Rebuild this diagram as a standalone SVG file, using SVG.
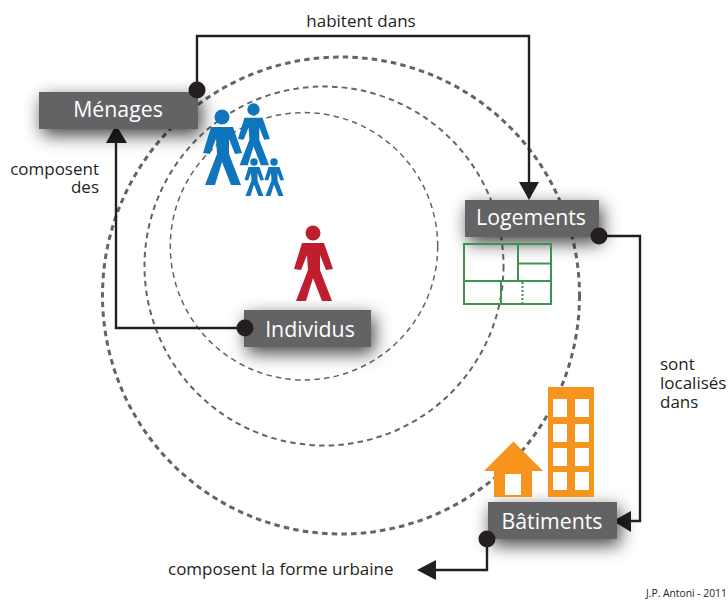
<svg xmlns="http://www.w3.org/2000/svg" width="728" height="600" viewBox="0 0 728 600">
<style>
text{font-family:"Open Sans","Noto Sans","Liberation Sans",sans-serif;fill:#231f20}
.lbl{font-size:17px}
.nt{font-size:21.3px;fill:#fff;text-anchor:middle}
.box{fill:#636466;filter:url(#sh)}
.c{fill:none;stroke:#231f20;stroke-width:2.4}
.dot{fill:#231f20}
.ring{fill:none;stroke:#636466;stroke-dasharray:5.5 4.2}
.g{fill:none;stroke:#3c9450;stroke-width:2}
.o{fill:#f7941d}
.w{fill:#fff}
</style>
<defs>
<filter id="sh" x="-30%" y="-80%" width="160%" height="300%">
<feGaussianBlur in="SourceAlpha" stdDeviation="9"/>
<feOffset dx="3" dy="6"/>
<feComponentTransfer><feFuncA type="linear" slope="0.75"/></feComponentTransfer>
<feMerge><feMergeNode/><feMergeNode in="SourceGraphic"/></feMerge>
</filter>
<g id="p">
<circle cx="0" cy="0" r="7.5"/>
<path d="M-11 10L11 10L20 36L13 37L7 22L7 37L19 68L9 68L0 45L-7 68L-17 68L-5 37L-6 22L-12 37L-19 36Z"/>
</g>
</defs>
<g id="rings">
<circle class="ring" cx="341" cy="295.500" r="238.500" stroke-width="3"/>
<circle class="ring" cx="324" cy="266" r="179.500" stroke-width="2"/>
<circle class="ring" cx="304" cy="246.300" r="133.700" stroke-width="1.500"/>
</g>
<g id="connectors">
<path class="c" d="M197 90V36H529V183"/>
<path class="dot" d="M519 182H539L529 200Z"/>
<path class="c" d="M599 236H640V521H630"/>
<path class="dot" d="M631 511V532L613 521Z"/>
<path class="c" d="M487 539V570H435"/>
<path class="dot" d="M436 560V580L417 570Z"/>
<path class="c" d="M245 328H116V142"/>
<path class="dot" d="M106 143H127L116 125Z"/>
</g>
<g id="menages"><rect class="box" x="39" y="92" width="159" height="37"/><text class="nt" x="118" y="117">Ménages</text></g>
<g id="logements"><rect class="box" x="465" y="200" width="134" height="37"/><text class="nt" x="531" y="225">Logements</text></g>
<g id="individus"><rect class="box" x="244" y="310" width="127" height="37"/><text class="nt" x="310" y="337">Individus</text></g>
<g id="batiments"><rect class="box" x="488" y="502" width="129" height="37"/><text class="nt" x="552" y="529">Bâtiments</text></g>
<g id="dots">
<circle class="dot" cx="197" cy="90" r="8.500"/>
<circle class="dot" cx="599" cy="236" r="8.500"/>
<circle class="dot" cx="487" cy="539" r="8.500"/>
<circle class="dot" cx="245" cy="328" r="8.500"/>
</g>
<g id="people-blue" fill="#0f75bc">
<use href="#p" transform="translate(222,117)"/>
<use href="#p" transform="translate(253.500,109.500) scale(.82)"/>
<use href="#p" transform="translate(254,162) scale(.5)"/>
<use href="#p" transform="translate(274,162) scale(.5)"/>
</g>
<g id="person-red" fill="#be1e2d"><use href="#p" transform="translate(313,233)"/></g>
<g id="flat">
<rect class="g" x="464" y="244" width="87" height="60"/>
<path class="g" d="M464 281H551M518 244V281M518 263.500H551M501 281V304"/>
<path class="g" d="M522.500 282V304" stroke-dasharray="2 2"/>
</g>
<g id="building">
<rect class="o" x="548" y="387" width="46" height="110"/>
<g class="w">
<rect x="553" y="399" width="14" height="18"/><rect x="575" y="399" width="14" height="18"/>
<rect x="553" y="424" width="14" height="18"/><rect x="575" y="424" width="14" height="18"/>
<rect x="553" y="448" width="14" height="18"/><rect x="575" y="448" width="14" height="18"/>
<rect x="553" y="472" width="14" height="18"/><rect x="575" y="472" width="14" height="18"/>
</g>
</g>
<g id="house">
<path class="o" d="M513.500 441.500L543 471H532V497H494V471H484Z"/>
<rect class="w" x="505" y="474" width="16" height="21"/>
</g>
<g id="labels">
<text class="lbl" x="361" y="27" text-anchor="middle">habitent dans</text>
<text class="lbl" text-anchor="end"><tspan x="99" y="175">composent</tspan><tspan x="99" y="193">des</tspan></text>
<text class="lbl"><tspan x="660" y="370">sont</tspan><tspan x="660" y="389">localisés</tspan><tspan x="660" y="408">dans</tspan></text>
<text class="lbl" x="168" y="575">composent la forme urbaine</text>
<text x="646" y="597" font-size="10.300">J.P. Antoni - 2011</text>
</g>
</svg>
